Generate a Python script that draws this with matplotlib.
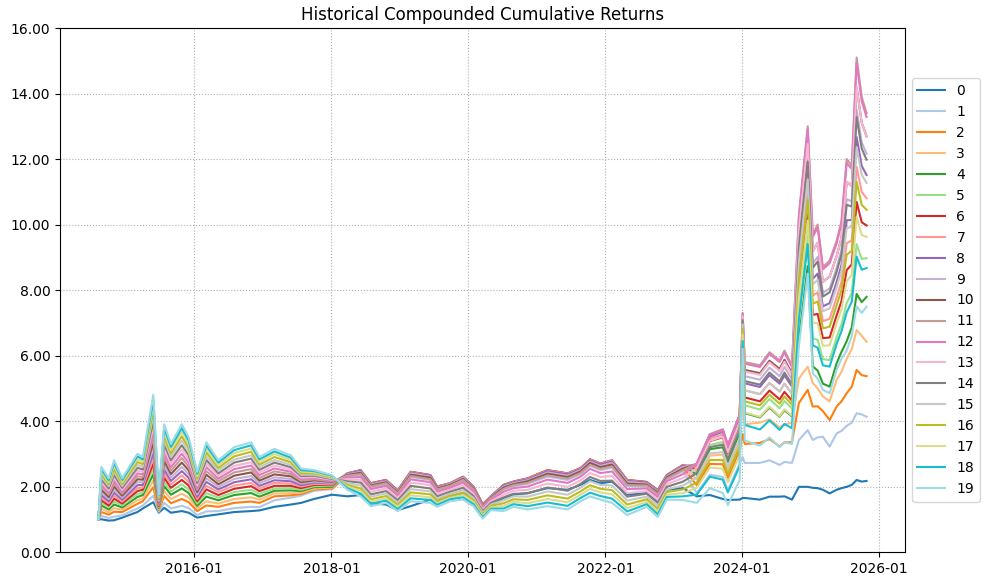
import matplotlib
matplotlib.use("Agg")
import matplotlib.pyplot as plt
import matplotlib.dates as mdates
from matplotlib.ticker import FormatStrFormatter
import numpy as np
import pandas as pd

# ---------------- data ----------------
series_labels = [str(i) for i in range(20)]

# Period A: 2014-08 .. 2018-01  (each row = values of series 0..19 at that date)
dates_a = ['2014-08-07', '2014-08-23', '2014-10-01', '2014-10-30', '2014-12-12',
           '2015-03-03', '2015-04-01', '2015-05-27', '2015-06-25', '2015-07-24',
           '2015-08-29', '2015-10-26', '2015-12-02', '2016-01-16', '2016-03-05',
           '2016-05-08', '2016-07-31', '2016-10-30', '2016-12-13', '2017-03-03',
           '2017-05-30', '2017-07-23', '2017-10-01', '2018-01-04']
values_a = [
    [1.00, 1.00, 1.00, 1.00, 1.00, 1.00, 1.00, 1.00, 1.00, 1.00, 1.00, 1.00, 1.00, 1.00, 1.00, 1.00, 1.00, 1.00, 1.00, 1.00],
    [1.00, 1.10, 1.22, 1.32, 1.42, 1.50, 1.58, 1.66, 1.74, 1.82, 1.90, 1.98, 2.06, 2.14, 2.22, 2.30, 2.38, 2.46, 2.53, 2.60],
    [0.96, 1.04, 1.14, 1.22, 1.30, 1.36, 1.42, 1.49, 1.55, 1.62, 1.68, 1.75, 1.81, 1.88, 1.94, 2.01, 2.07, 2.13, 2.19, 2.25],
    [0.97, 1.08, 1.23, 1.34, 1.45, 1.54, 1.63, 1.72, 1.81, 1.90, 2.00, 2.09, 2.18, 2.27, 2.36, 2.45, 2.54, 2.64, 2.72, 2.80],
    [1.05, 1.12, 1.22, 1.29, 1.36, 1.42, 1.48, 1.54, 1.60, 1.66, 1.72, 1.78, 1.84, 1.90, 1.96, 2.02, 2.08, 2.14, 2.20, 2.25],
    [1.22, 1.33, 1.47, 1.58, 1.68, 1.77, 1.86, 1.95, 2.04, 2.13, 2.22, 2.31, 2.40, 2.48, 2.57, 2.66, 2.75, 2.84, 2.92, 3.00],
    [1.33, 1.42, 1.55, 1.64, 1.74, 1.82, 1.90, 1.97, 2.05, 2.13, 2.21, 2.29, 2.37, 2.45, 2.52, 2.60, 2.68, 2.76, 2.83, 2.90],
    [1.52, 1.72, 1.98, 2.18, 2.37, 2.54, 2.70, 2.87, 3.03, 3.19, 3.36, 3.52, 3.69, 3.85, 4.01, 4.18, 4.34, 4.51, 4.65, 4.80],
    [1.20, 1.23, 1.28, 1.31, 1.34, 1.37, 1.40, 1.43, 1.45, 1.48, 1.51, 1.54, 1.56, 1.59, 1.62, 1.65, 1.67, 1.70, 1.73, 1.75],
    [1.35, 1.50, 1.71, 1.86, 2.01, 2.14, 2.27, 2.40, 2.52, 2.65, 2.78, 2.91, 3.03, 3.16, 3.29, 3.42, 3.54, 3.67, 3.79, 3.90],
    [1.20, 1.33, 1.49, 1.62, 1.75, 1.85, 1.96, 2.06, 2.17, 2.27, 2.38, 2.48, 2.59, 2.69, 2.80, 2.90, 3.01, 3.11, 3.21, 3.30],
    [1.25, 1.41, 1.62, 1.78, 1.94, 2.07, 2.20, 2.34, 2.47, 2.60, 2.73, 2.87, 3.00, 3.13, 3.26, 3.40, 3.53, 3.66, 3.78, 3.90],
    [1.20, 1.34, 1.52, 1.66, 1.80, 1.91, 2.03, 2.14, 2.26, 2.37, 2.49, 2.60, 2.72, 2.83, 2.95, 3.06, 3.18, 3.29, 3.40, 3.50],
    [1.05, 1.13, 1.25, 1.33, 1.41, 1.48, 1.55, 1.62, 1.69, 1.76, 1.83, 1.90, 1.97, 2.04, 2.11, 2.18, 2.25, 2.32, 2.39, 2.45],
    [1.10, 1.24, 1.42, 1.55, 1.69, 1.80, 1.91, 2.02, 2.14, 2.25, 2.36, 2.47, 2.59, 2.70, 2.81, 2.92, 3.04, 3.15, 3.25, 3.35],
    [1.15, 1.25, 1.38, 1.48, 1.58, 1.66, 1.74, 1.83, 1.91, 1.99, 2.07, 2.16, 2.24, 2.32, 2.40, 2.49, 2.57, 2.65, 2.73, 2.80],
    [1.22, 1.34, 1.50, 1.62, 1.74, 1.83, 1.93, 2.03, 2.13, 2.23, 2.33, 2.43, 2.53, 2.63, 2.73, 2.82, 2.92, 3.02, 3.11, 3.20],
    [1.25, 1.38, 1.54, 1.67, 1.80, 1.90, 2.01, 2.11, 2.22, 2.32, 2.43, 2.53, 2.64, 2.74, 2.85, 2.95, 3.06, 3.16, 3.26, 3.35],
    [1.27, 1.37, 1.50, 1.60, 1.69, 1.78, 1.86, 1.94, 2.02, 2.10, 2.18, 2.26, 2.35, 2.43, 2.51, 2.59, 2.67, 2.75, 2.83, 2.90],
    [1.38, 1.58, 1.70, 1.79, 1.87, 1.94, 2.02, 2.11, 2.19, 2.28, 2.37, 2.46, 2.55, 2.64, 2.73, 2.81, 2.90, 2.99, 3.07, 3.15],
    [1.45, 1.66, 1.73, 1.80, 1.88, 1.95, 2.02, 2.09, 2.16, 2.23, 2.31, 2.38, 2.45, 2.52, 2.59, 2.66, 2.74, 2.81, 2.88, 2.95],
    [1.50, 1.72, 1.77, 1.81, 1.86, 1.90, 1.95, 2.00, 2.04, 2.09, 2.13, 2.18, 2.23, 2.27, 2.32, 2.36, 2.41, 2.46, 2.50, 2.55],
    [1.62, 1.87, 1.91, 1.94, 1.98, 2.01, 2.05, 2.08, 2.12, 2.15, 2.19, 2.22, 2.26, 2.29, 2.33, 2.36, 2.40, 2.43, 2.47, 2.50],
    [1.75, 1.92, 1.94, 1.97, 1.99, 2.02, 2.04, 2.06, 2.09, 2.11, 2.14, 2.16, 2.18, 2.21, 2.23, 2.25, 2.28, 2.30, 2.33, 2.35],
]

# Period B: 2018-03 .. 2023-05
dates_b = ['2018-03-27', '2018-06-06', '2018-07-30', '2018-10-19', '2018-12-21',
           '2019-02-28', '2019-06-13', '2019-07-19', '2019-09-26', '2019-12-04',
           '2020-01-29', '2020-03-18', '2020-05-01', '2020-07-08', '2020-08-29',
           '2020-11-13', '2021-02-27', '2021-06-14', '2021-08-22', '2021-10-12',
           '2021-12-06', '2022-02-06', '2022-04-28', '2022-08-10', '2022-10-08',
           '2022-11-25', '2023-02-20', '2023-05-04']
values_b = [
    [1.70, 2.31, 2.36, 2.38, 2.40, 2.40, 2.40, 2.40, 2.39, 2.37, 2.35, 2.33, 2.27, 2.22, 2.16, 2.11, 2.05, 2.00, 1.95, 1.90],
    [1.74, 2.36, 2.44, 2.47, 2.49, 2.50, 2.50, 2.49, 2.48, 2.45, 2.42, 2.38, 2.29, 2.20, 2.12, 2.03, 1.94, 1.86, 1.78, 1.70],
    [1.49, 1.97, 2.04, 2.07, 2.09, 2.10, 2.10, 2.09, 2.08, 2.06, 2.03, 2.00, 1.92, 1.84, 1.76, 1.69, 1.61, 1.54, 1.47, 1.40],
    [1.45, 2.07, 2.14, 2.17, 2.19, 2.20, 2.20, 2.19, 2.18, 2.16, 2.13, 2.10, 2.02, 1.94, 1.86, 1.79, 1.71, 1.64, 1.57, 1.50],
    [1.28, 1.77, 1.83, 1.86, 1.87, 1.88, 1.88, 1.87, 1.86, 1.84, 1.82, 1.79, 1.72, 1.65, 1.58, 1.51, 1.44, 1.38, 1.31, 1.25],
    [1.40, 2.29, 2.38, 2.41, 2.44, 2.45, 2.45, 2.44, 2.42, 2.40, 2.36, 2.32, 2.22, 2.12, 2.02, 1.92, 1.82, 1.73, 1.64, 1.55],
    [1.60, 2.20, 2.28, 2.32, 2.34, 2.35, 2.35, 2.34, 2.33, 2.30, 2.27, 2.22, 2.13, 2.04, 1.94, 1.85, 1.76, 1.67, 1.59, 1.50],
    [1.55, 1.89, 1.95, 1.98, 1.99, 2.00, 2.00, 1.99, 1.98, 1.96, 1.94, 1.91, 1.84, 1.77, 1.70, 1.63, 1.57, 1.50, 1.44, 1.38],
    [1.70, 2.00, 2.06, 2.08, 2.10, 2.10, 2.10, 2.10, 2.08, 2.07, 2.05, 2.02, 1.96, 1.90, 1.84, 1.78, 1.72, 1.66, 1.61, 1.55],
    [1.80, 2.17, 2.24, 2.27, 2.29, 2.30, 2.30, 2.29, 2.28, 2.26, 2.23, 2.20, 2.12, 2.04, 1.96, 1.89, 1.81, 1.74, 1.67, 1.60],
    [1.70, 1.89, 1.95, 1.98, 1.99, 2.00, 2.00, 1.99, 1.98, 1.96, 1.94, 1.91, 1.84, 1.78, 1.71, 1.65, 1.58, 1.52, 1.46, 1.40],
    [1.20, 1.37, 1.42, 1.43, 1.45, 1.45, 1.45, 1.45, 1.44, 1.42, 1.41, 1.39, 1.34, 1.29, 1.24, 1.20, 1.15, 1.11, 1.06, 1.02],
    [1.45, 1.62, 1.67, 1.68, 1.70, 1.70, 1.70, 1.70, 1.69, 1.68, 1.66, 1.64, 1.59, 1.55, 1.50, 1.45, 1.41, 1.36, 1.32, 1.28],
    [1.65, 1.91, 1.99, 2.02, 2.04, 2.05, 2.05, 2.04, 2.03, 2.00, 1.97, 1.93, 1.84, 1.75, 1.67, 1.58, 1.49, 1.41, 1.33, 1.25],
    [1.75, 2.01, 2.09, 2.12, 2.14, 2.15, 2.15, 2.14, 2.13, 2.10, 2.07, 2.04, 1.95, 1.87, 1.78, 1.70, 1.61, 1.53, 1.46, 1.38],
    [1.80, 2.08, 2.17, 2.21, 2.24, 2.25, 2.25, 2.24, 2.22, 2.19, 2.16, 2.11, 2.00, 1.90, 1.79, 1.69, 1.59, 1.49, 1.40, 1.30],
    [1.95, 2.30, 2.41, 2.46, 2.49, 2.50, 2.50, 2.49, 2.47, 2.43, 2.39, 2.34, 2.21, 2.09, 1.97, 1.85, 1.73, 1.62, 1.51, 1.40],
    [1.90, 2.20, 2.31, 2.36, 2.39, 2.40, 2.40, 2.39, 2.37, 2.33, 2.29, 2.24, 2.11, 1.99, 1.87, 1.75, 1.63, 1.52, 1.41, 1.30],
    [2.05, 2.38, 2.48, 2.52, 2.55, 2.56, 2.56, 2.55, 2.53, 2.50, 2.46, 2.41, 2.30, 2.19, 2.08, 1.96, 1.85, 1.75, 1.65, 1.55],
    [2.20, 2.63, 2.74, 2.79, 2.82, 2.83, 2.83, 2.82, 2.80, 2.76, 2.72, 2.66, 2.54, 2.41, 2.29, 2.16, 2.04, 1.93, 1.81, 1.70],
    [2.10, 2.50, 2.61, 2.66, 2.69, 2.70, 2.70, 2.69, 2.67, 2.63, 2.59, 2.54, 2.41, 2.29, 2.17, 2.05, 1.93, 1.82, 1.71, 1.60],
    [2.15, 2.57, 2.70, 2.75, 2.79, 2.80, 2.80, 2.79, 2.76, 2.72, 2.67, 2.61, 2.46, 2.32, 2.18, 2.03, 1.89, 1.76, 1.63, 1.50],
    [1.75, 2.01, 2.11, 2.16, 2.19, 2.20, 2.20, 2.19, 2.17, 2.14, 2.09, 2.04, 1.92, 1.80, 1.69, 1.57, 1.45, 1.34, 1.24, 1.13],
    [1.80, 2.00, 2.08, 2.11, 2.13, 2.14, 2.14, 2.13, 2.12, 2.09, 2.06, 2.03, 1.94, 1.86, 1.78, 1.69, 1.61, 1.53, 1.46, 1.38],
    [1.55, 1.74, 1.82, 1.86, 1.88, 1.89, 1.89, 1.88, 1.87, 1.84, 1.81, 1.77, 1.68, 1.59, 1.50, 1.41, 1.32, 1.23, 1.15, 1.07],
    [1.90, 2.22, 2.29, 2.32, 2.34, 2.35, 2.35, 2.34, 2.33, 2.31, 2.28, 2.24, 2.16, 2.07, 1.99, 1.91, 1.83, 1.75, 1.68, 1.60],
    [1.95, 2.47, 2.57, 2.62, 2.65, 2.66, 2.66, 2.65, 2.63, 2.60, 2.55, 2.50, 2.38, 2.26, 2.15, 2.03, 1.91, 1.80, 1.70, 1.59],
    [1.70, 1.80, 2.04, 2.22, 2.36, 2.46, 2.54, 2.60, 2.65, 2.68, 2.69, 2.70, 2.69, 2.56, 2.41, 2.27, 2.12, 1.96, 1.75, 1.50],
]

# Period C: 2023-07 .. 2025-10
dates_c = ['2023-07-13', '2023-09-20', '2023-10-17', '2023-12-19', '2024-01-04',
           '2024-01-15', '2024-04-05', '2024-05-26', '2024-07-19', '2024-08-14',
           '2024-09-23', '2024-10-30', '2024-12-16', '2025-01-12', '2025-02-07',
           '2025-03-07', '2025-04-12', '2025-05-19', '2025-06-14', '2025-07-12',
           '2025-08-08', '2025-09-03', '2025-09-30', '2025-10-26']
values_c = [
    [1.74, 2.36, 2.69, 2.94, 3.14, 3.27, 3.39, 3.47, 3.53, 3.57, 3.58, 3.60, 3.58, 3.40, 3.20, 3.01, 2.81, 2.58, 2.30, 1.95],
    [1.62, 2.29, 2.68, 2.97, 3.20, 3.36, 3.50, 3.59, 3.67, 3.71, 3.73, 3.75, 3.73, 3.52, 3.28, 3.05, 2.81, 2.54, 2.21, 1.80],
    [1.59, 1.89, 2.26, 2.53, 2.75, 2.90, 3.03, 3.12, 3.20, 3.23, 3.25, 3.27, 3.25, 3.05, 2.83, 2.61, 2.39, 2.13, 1.82, 1.43],
    [1.60, 2.70, 3.10, 3.40, 3.64, 3.80, 3.94, 4.04, 4.12, 4.16, 4.18, 4.20, 4.18, 3.96, 3.72, 3.48, 3.24, 2.96, 2.62, 2.20],
    [1.65, 2.90, 3.60, 4.50, 6.33, 6.53, 6.70, 6.84, 6.97, 7.08, 7.17, 7.30, 7.28, 7.19, 7.08, 6.95, 6.81, 6.64, 6.44, 6.20],
    [1.65, 2.72, 3.30, 3.90, 4.24, 4.48, 4.72, 4.94, 5.15, 5.37, 5.56, 5.80, 5.75, 5.51, 5.22, 4.94, 4.60, 4.26, 3.88, 3.40],
    [1.60, 2.72, 3.33, 3.95, 4.11, 4.35, 4.60, 4.82, 5.04, 5.26, 5.46, 5.70, 5.65, 5.41, 5.11, 4.82, 4.48, 4.13, 3.74, 3.25],
    [1.69, 2.80, 3.45, 4.05, 4.41, 4.67, 4.93, 5.16, 5.40, 5.63, 5.84, 6.10, 6.05, 5.79, 5.48, 5.16, 4.80, 4.44, 4.02, 3.50],
    [1.69, 2.66, 3.22, 3.80, 4.13, 4.39, 4.66, 4.90, 5.14, 5.37, 5.59, 5.85, 5.80, 5.53, 5.21, 4.90, 4.53, 4.15, 3.73, 3.20],
    [1.70, 2.75, 3.35, 3.90, 4.33, 4.61, 4.89, 5.14, 5.39, 5.65, 5.87, 6.15, 6.09, 5.81, 5.48, 5.14, 4.75, 4.36, 3.91, 3.35],
    [1.60, 2.72, 3.35, 3.95, 4.14, 4.38, 4.62, 4.84, 5.05, 5.27, 5.46, 5.70, 5.65, 5.41, 5.12, 4.84, 4.50, 4.16, 3.78, 3.30],
    [1.99, 3.42, 4.55, 5.30, 6.50, 7.30, 7.98, 8.54, 9.02, 9.46, 9.82, 10.30, 10.22, 9.82, 9.34, 8.86, 8.30, 7.74, 7.10, 6.30],
    [1.99, 3.72, 4.95, 5.66, 8.73, 9.63, 10.39, 11.02, 11.56, 12.06, 12.46, 13.00, 12.91, 12.46, 11.92, 11.38, 10.75, 10.12, 9.40, 8.50],
    [1.96, 3.42, 4.44, 5.16, 5.67, 6.52, 7.24, 7.83, 8.34, 8.81, 9.19, 9.70, 9.62, 9.19, 8.68, 8.17, 7.58, 6.99, 6.31, 5.46],
    [1.95, 3.50, 4.45, 5.00, 5.54, 6.48, 7.27, 7.93, 8.50, 9.01, 9.44, 10.00, 9.91, 9.44, 8.87, 8.31, 7.65, 6.99, 6.24, 5.30],
    [1.90, 3.52, 4.30, 4.75, 5.14, 5.89, 6.53, 7.05, 7.50, 7.91, 8.25, 8.70, 8.63, 8.25, 7.80, 7.35, 6.83, 6.30, 5.70, 4.95],
    [1.79, 3.22, 4.03, 4.60, 5.05, 5.86, 6.55, 7.12, 7.60, 8.05, 8.41, 8.90, 8.82, 8.41, 7.93, 7.44, 6.88, 6.31, 5.66, 4.85],
    [1.90, 3.62, 4.44, 5.25, 5.76, 6.55, 7.22, 7.77, 8.24, 8.67, 9.03, 9.50, 9.42, 9.03, 8.55, 8.08, 7.53, 6.98, 6.35, 5.56],
    [1.95, 3.70, 4.60, 5.50, 6.11, 6.95, 7.66, 8.25, 8.76, 9.22, 9.60, 10.10, 10.02, 9.60, 9.09, 8.59, 8.00, 7.41, 6.74, 5.90],
    [1.99, 3.85, 4.85, 5.90, 6.44, 7.61, 8.61, 9.43, 10.13, 10.77, 11.30, 12.00, 11.88, 11.30, 10.60, 9.89, 9.08, 8.26, 7.32, 6.15],
    [2.05, 3.95, 5.05, 6.20, 6.86, 7.90, 8.78, 9.51, 10.14, 10.71, 11.18, 11.80, 11.70, 11.18, 10.55, 9.93, 9.20, 8.47, 7.64, 6.60],
    [2.20, 4.24, 5.56, 6.78, 7.88, 9.40, 10.69, 11.76, 12.67, 13.50, 14.19, 15.10, 14.95, 14.19, 13.28, 12.36, 11.30, 10.24, 9.02, 7.50],
    [2.15, 4.20, 5.40, 6.60, 7.63, 8.95, 10.07, 11.00, 11.79, 12.51, 13.11, 13.90, 13.77, 13.11, 12.32, 11.52, 10.60, 9.68, 8.62, 7.30],
    [2.17, 4.13, 5.37, 6.42, 7.79, 8.97, 9.97, 10.80, 11.51, 12.16, 12.69, 13.40, 13.28, 12.69, 11.98, 11.27, 10.45, 9.62, 8.67, 7.49],
]

title_text = "Historical Compounded Cumulative Returns"

# ---------------- plotting ----------------
dates = pd.to_datetime(dates_a + dates_b + dates_c)
table = pd.DataFrame(np.array(values_a + values_b + values_c), index=dates,
                     columns=series_labels)

fig, ax = plt.subplots(figsize=(9.98, 5.86), dpi=100)
colors = plt.cm.tab20.colors
for i, name in enumerate(series_labels):
    ax.plot(table.index, table[name], color=colors[i], lw=1.5, label=name)

ax.set_ylim(0, 16)
ax.yaxis.set_major_formatter(FormatStrFormatter('%.2f'))
ax.xaxis.set_major_locator(mdates.YearLocator(2))
ax.xaxis.set_major_formatter(mdates.DateFormatter('%Y-%m'))
ax.grid(True, linestyle=':')
ax.set_title(title_text)
ax.legend(loc='center left', bbox_to_anchor=(1.0, 0.5))

fig.subplots_adjust(left=0.0601, right=0.9068, bottom=0.058, top=0.9522)
fig.savefig('out.png', dpi=100)
